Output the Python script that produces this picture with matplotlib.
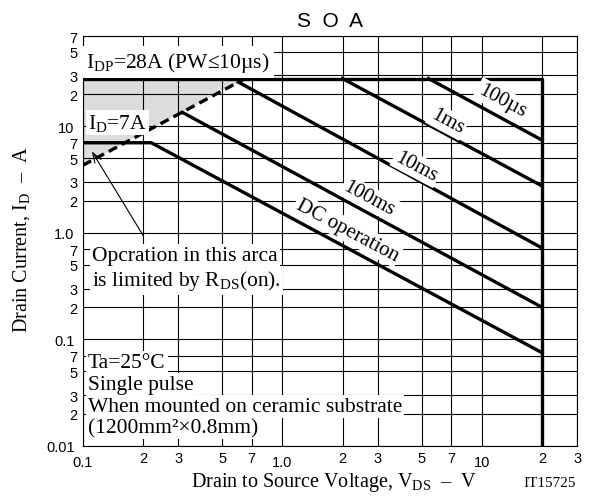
import numpy as np
import matplotlib
matplotlib.use('Agg')
import matplotlib.pyplot as plt
from matplotlib.ticker import FixedLocator, FixedFormatter

plt.rcParams['font.family'] = ['Liberation Serif', 'DejaVu Serif']
plt.rcParams['mathtext.fontset'] = 'custom'
plt.rcParams['mathtext.rm'] = 'Liberation Serif'
plt.rcParams['mathtext.it'] = 'Liberation Serif:italic'

# SOA boundary lines (V, A)
v_lim = [0.1, 20, 20]
i_lim = [28, 28, 0.01]
v_rds = [0.1, 0.65]
i_rds = [4.3, 28]
v_dc = [0.1, 0.22, 20]
i_dc = [7, 7, 0.075]
v_100ms = [0.315, 20]
i_100ms = [13.5, 0.2]
v_10ms = [0.6, 20]
i_10ms = [26, 0.72]
v_1ms = [2.0, 20]
i_1ms = [28, 2.75]
v_100us = [5.4, 20]
i_100us = [28, 7.4]

# line labels: text, x position, y position
line_labels = ['100µs', '1ms', '10ms', '100ms', 'DC operation']
label_x = [12.6, 6.7, 4.7, 2.72, 2.11]
label_y = [17.5, 11.1, 4.2, 2.11, 1.06]

x_major = [0.1, 1, 10]
x_major_lbl = ['0.1', '1.0', '10']
x_minor = [0.2, 0.3, 0.5, 0.7, 2, 3, 5, 7, 20, 30]
x_minor_lbl = ['2', '3', '5', '7', '2', '3', '5', '7', '2', '3']
y_major = [0.01, 0.1, 1, 10]
y_major_lbl = ['0.01', '0.1', '1.0', '10']
y_minor = [0.02, 0.03, 0.05, 0.07, 0.2, 0.3, 0.5, 0.7, 2, 3, 5, 7, 20, 30, 50, 70]
y_minor_lbl = ['2', '3', '5', '7'] * 4

fig = plt.figure(figsize=(5.92, 5.02), dpi=100)
ax = fig.add_axes([0.140, 0.1096, 0.835, 0.8164])
ax.set_xscale('log')
ax.set_yscale('log')
ax.set_xlim(0.1, 30)
ax.set_ylim(0.01, 70)

# shaded R_DS(on) limited area
ax.fill([v_rds[0], v_rds[1], v_rds[0]], [i_rds[0], i_rds[1], i_rds[1]],
        color='#dcdcdc', lw=0, zorder=0.2)

ax.xaxis.set_major_locator(FixedLocator(x_major))
ax.xaxis.set_major_formatter(FixedFormatter(x_major_lbl))
ax.xaxis.set_minor_locator(FixedLocator(x_minor))
ax.xaxis.set_minor_formatter(FixedFormatter(x_minor_lbl))
ax.yaxis.set_major_locator(FixedLocator(y_major))
ax.yaxis.set_major_formatter(FixedFormatter(y_major_lbl))
ax.yaxis.set_minor_locator(FixedLocator(y_minor))
ax.yaxis.set_minor_formatter(FixedFormatter(y_minor_lbl))
ax.tick_params(which='both', length=0, labelsize=10.5)
ax.tick_params(axis='x', which='major', pad=6.5)
ax.tick_params(axis='x', which='minor', pad=3.5)
ax.tick_params(axis='y', which='major', pad=6)
ax.tick_params(axis='y', which='minor', pad=4)
for t in ax.get_xticklabels(which='both') + ax.get_yticklabels(which='both'):
    t.set_fontfamily('Liberation Sans')

ax.set_axisbelow(True)
ax.grid(which='both', color='black', lw=0.8)
for s in ax.spines.values():
    s.set_linewidth(0.8)

lw = 2.4
ax.plot(v_lim, i_lim, color='black', lw=lw, zorder=2)
ax.plot(v_rds, i_rds, color='black', lw=lw, ls=(0, (2.8, 1.6)), zorder=2)
ax.plot(v_dc, i_dc, color='black', lw=lw, zorder=2)
ax.plot(v_100ms, i_100ms, color='black', lw=lw, zorder=2)
ax.plot(v_10ms, i_10ms, color='black', lw=lw, zorder=2)
ax.plot(v_1ms, i_1ms, color='black', lw=lw, zorder=2)
ax.plot(v_100us, i_100us, color='black', lw=lw, zorder=2)

box = dict(facecolor='white', edgecolor='none', pad=1.5)
fs = 15.5

for txt, x, y in zip(line_labels, label_x, label_y):
    ax.text(x, y, txt, fontsize=15, rotation=-28, rotation_mode='anchor',
            ha='center', va='center', bbox=box, zorder=4)

ax.text(0.104, 40, r'$\mathregular{I_{DP}}$=28A (PW≤10µs)', fontsize=fs,
        ha='left', va='center', bbox=dict(facecolor='white', edgecolor='none', pad=3), zorder=4)
ax.text(0.106, 10.9, r'$\mathregular{I_D}$=7A', fontsize=fs,
        ha='left', va='center', bbox=box, zorder=4)

ax.annotate('', xy=(0.111, 5.8), xytext=(0.2, 0.95),
            arrowprops=dict(arrowstyle='->,head_length=0.7,head_width=0.25',
                            color='black', lw=0.8, shrinkA=0, shrinkB=0), zorder=3)
ax.text(0.111, 0.615, 'Opcration in this arca', fontsize=fs,
        ha='left', va='center', bbox=box, zorder=4)
ax.text(0.111, 0.358, r'is limited by $\mathregular{R_{DS}}$(on).', fontsize=fs,
        ha='left', va='center', bbox=box, zorder=4)

note_lines = ['Ta=25°C', 'Single pulse', 'When mounted on ceramic substrate',
              '(1200mm²×0.8mm)']
note_y = [0.0608, 0.038, 0.0234, 0.0149]
for txt, y in zip(note_lines, note_y):
    ax.text(0.106, y, txt, fontsize=fs, ha='left', va='center', bbox=box, zorder=4)

fig.text(0.557, 0.958, 'S  O  A', fontsize=15, family='Liberation Sans',
         ha='center', va='center')
fig.text(0.564, 0.029, r'Drain to Source Voltage, $\mathregular{V_{DS}}$  –  V',
         fontsize=14.5, ha='center', va='baseline')
fig.text(0.036, 0.522, r'Drain Current, $\mathregular{I_D}$  –  A',
         fontsize=14.5, ha='center', va='center', rotation=90)
fig.text(0.929, 0.029, 'IT15725', fontsize=11, ha='center', va='baseline')

fig.savefig('out.png', dpi=100)
